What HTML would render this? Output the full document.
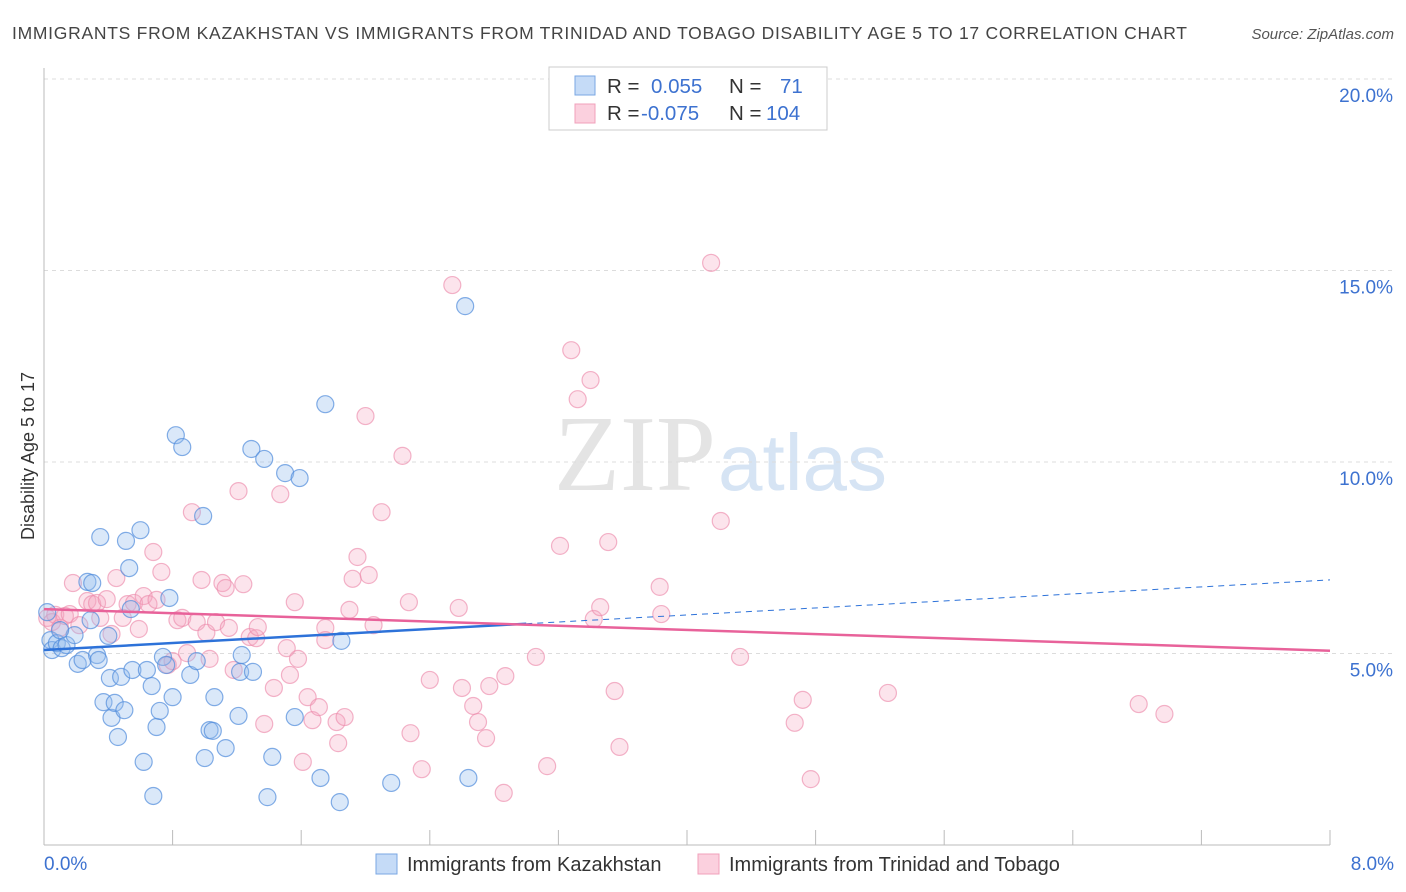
<!DOCTYPE html>
<html><head><meta charset="utf-8"><style>
body{margin:0;background:#fff;font-family:"Liberation Sans",sans-serif;}
#wrap{position:relative;width:1406px;height:892px;overflow:hidden;}
</style></head><body>
<div id="wrap">
<svg id="svg" width="1406" height="892" xmlns="http://www.w3.org/2000/svg">
<text x="12" y="39" font-size="17.5" fill="#444" textLength="1175" lengthAdjust="spacing">IMMIGRANTS FROM KAZAKHSTAN VS IMMIGRANTS FROM TRINIDAD AND TOBAGO DISABILITY AGE 5 TO 17 CORRELATION CHART</text>
<text x="1394" y="39" font-size="15" fill="#555" text-anchor="end" font-style="italic">Source: ZipAtlas.com</text>
<text x="716" y="490" font-size="108" fill="#e4e4e4" text-anchor="end" font-family="Liberation Serif,serif">ZIP</text>
<text x="718" y="490" font-size="80" fill="#d6e4f4">atlas</text>
<text transform="translate(34,456) rotate(-90)" font-size="18" fill="#333" text-anchor="middle">Disability Age 5 to 17</text>
<g id="grid"></g><g id="pts"></g><g id="lines"></g>
<rect x="549" y="67" width="278" height="63" fill="#fff" stroke="#ccc"/>
<rect x="575" y="76" width="20" height="19" fill="#c5dbf7" stroke="#7aa7e3"/>
<rect x="575" y="104" width="20" height="19" fill="#fbd0de" stroke="#f0a0bb"/>
<text x="607" y="93" font-size="20.5" fill="#333">R = <tspan fill="#3d72d0" x="651">0.055</tspan><tspan x="729">N =</tspan><tspan fill="#3d72d0" x="780">71</tspan></text>
<text x="607" y="120" font-size="20.5" fill="#333">R = <tspan fill="#3d72d0" x="641">-0.075</tspan><tspan x="729">N =</tspan><tspan fill="#3d72d0" x="766">104</tspan></text>
<rect x="376" y="854" width="21" height="20" fill="#c5dbf7" stroke="#7aa7e3"/>
<text x="407" y="871" font-size="20" fill="#333">Immigrants from Kazakhstan</text>
<rect x="698" y="854" width="21" height="20" fill="#fbd0de" stroke="#f0a0bb"/>
<text x="729" y="871" font-size="20" fill="#333">Immigrants from Trinidad and Tobago</text>
</svg></div>
<script>
const blueX=[0.02,0.04,0.05,0.08,0.11,0.14,0.19,0.21,0.24,0.27,0.30,0.29,0.33,0.34,0.35,0.37,0.40,0.41,0.42,0.44,0.46,0.48,0.50,0.51,0.53,0.55,0.60,0.62,0.64,0.67,0.68,0.70,0.72,0.74,0.76,0.78,0.80,0.82,0.86,0.91,0.95,0.99,1.00,1.03,1.05,1.06,1.13,1.21,1.22,1.23,1.29,1.30,1.37,1.39,1.42,1.50,1.56,1.59,1.72,1.75,1.84,1.85,2.16,2.62,2.64,0.54,0.10];
const blueY=[6.08,5.35,5.09,5.27,5.14,5.22,5.48,4.73,4.83,6.87,6.84,5.87,4.96,4.83,8.04,3.73,5.46,4.36,3.32,3.71,2.82,4.39,3.52,7.94,7.23,4.57,8.22,2.17,4.57,4.15,1.28,3.08,3.50,4.91,4.70,6.45,3.86,10.70,10.39,4.44,4.80,8.59,2.27,3.0,2.98,3.86,2.53,3.37,4.52,4.96,10.34,4.52,10.08,1.25,2.30,9.71,3.34,9.58,1.75,11.51,1.12,5.33,1.62,14.07,1.75,6.16,5.61];
const pinkX=[0.02,0.05,0.07,0.10,0.13,0.16,0.18,0.22,0.27,0.30,0.33,0.35,0.39,0.42,0.45,0.49,0.52,0.56,0.59,0.62,0.65,0.68,0.70,0.73,0.77,0.80,0.83,0.86,0.89,0.92,0.95,0.98,1.01,1.03,1.07,1.11,1.13,1.15,1.18,1.21,1.24,1.28,1.32,1.33,1.37,1.43,1.47,1.51,1.53,1.56,1.58,1.61,1.64,1.67,1.71,1.75,1.75,1.82,1.83,1.87,1.90,1.92,1.95,2.00,2.02,2.05,2.10,2.23,2.27,2.28,2.35,2.40,2.54,2.58,2.60,2.67,2.70,2.75,2.77,2.86,2.87,3.06,3.13,3.21,3.28,3.32,3.40,3.42,3.46,3.51,3.55,3.58,3.83,3.84,4.15,4.21,4.33,4.67,4.72,4.77,5.25,6.81,6.97];
const pinkY=[5.93,5.82,6.01,5.67,5.98,6.03,6.84,5.74,6.37,6.29,6.32,5.93,6.42,5.51,6.97,5.93,6.29,6.32,5.64,6.50,6.29,7.65,6.40,7.13,4.70,4.80,5.87,5.93,5.01,8.69,5.82,6.92,5.54,4.86,5.82,6.84,6.71,5.67,4.57,9.24,6.81,5.43,5.40,5.69,3.16,4.10,9.16,5.14,4.44,6.34,4.86,2.17,3.86,3.26,3.60,5.67,5.35,3.21,2.66,3.34,6.14,6.95,7.52,11.2,7.05,5.74,8.69,10.16,6.34,2.92,1.98,4.31,14.62,6.19,4.10,3.63,3.21,2.79,4.15,1.36,4.41,4.91,2.06,7.81,12.92,11.64,12.14,5.90,6.21,7.91,4.02,2.56,6.74,6.03,15.20,8.46,4.91,3.19,3.79,1.72,3.97,3.68,3.42];
const yTicks=[5,10,15,20];
const xTickLabels=["0.0%","8.0%"];
const blueFit=[5.09,0.229], pinkFit=[6.16,-0.136];
const NS="http://www.w3.org/2000/svg";
const X=v=>44+v*160.75, Y=v=>845-v*38.3;
function mk(t,a,p){const e=document.createElementNS(NS,t);for(const k in a)e.setAttribute(k,a[k]);p.appendChild(e);return e;}
const grid=document.getElementById('grid'),pts=document.getElementById('pts'),lines=document.getElementById('lines');
yTicks.forEach(t=>{
 const l=mk('line',{x1:44,x2:1394,y1:Y(t),y2:Y(t),stroke:'#dcdcdc','stroke-dasharray':'4,4'},grid);
 
 
 const tx=mk('text',{x:1393,y:Y(t)+23,'font-size':19,fill:'#3d72d0','text-anchor':'end'},grid);tx.textContent=t.toFixed(1)+'%';
 
 
});
const ax=mk('line',{x1:44,x2:44,y1:68,y2:845,stroke:'#bbb'},grid);


const bx=mk('line',{x1:44,x2:1330,y1:845,y2:845,stroke:'#bbb'},grid);


for(let i=0;i<=10;i++){const t=mk('line',{x1:X(i*0.8),x2:X(i*0.8),y1:830,y2:845,stroke:'#bbb'},grid);
 
 }
[[0,'start',44],[8,'end',1394]].forEach((d,i)=>{const t=mk('text',{x:d[2],y:870,'font-size':19,fill:'#3d72d0','text-anchor':d[1]},grid);t.textContent=xTickLabels[i];
 
 });
pinkX.forEach((x,i)=>{const c=mk('circle',{cx:X(x),cy:Y(pinkY[i]),r:8.5,fill:'rgba(245,165,192,0.3)',stroke:'rgba(236,140,172,0.65)','stroke-width':1.2},pts);
 
 });
blueX.forEach((x,i)=>{const c=mk('circle',{cx:X(x),cy:Y(blueY[i]),r:8.5,fill:'rgba(150,188,238,0.35)',stroke:'rgba(80,140,220,0.7)','stroke-width':1.2},pts);
 
 });
const f=(p,x)=>p[0]+p[1]*x;
let l1=mk('line',{x1:X(0),y1:Y(f(blueFit,0)),x2:X(3.0),y2:Y(f(blueFit,3.0)),stroke:'#2d72d9','stroke-width':2.5},lines);


let l2=mk('line',{x1:X(3.0),y1:Y(f(blueFit,3.0)),x2:X(8),y2:Y(f(blueFit,8)),stroke:'#2d72d9','stroke-width':1,'stroke-dasharray':'6,5'},lines);


let l3=mk('line',{x1:X(0),y1:Y(f(pinkFit,0)),x2:X(8),y2:Y(f(pinkFit,8)),stroke:'#e8629a','stroke-width':2.5},lines);


</script>
</body></html>
